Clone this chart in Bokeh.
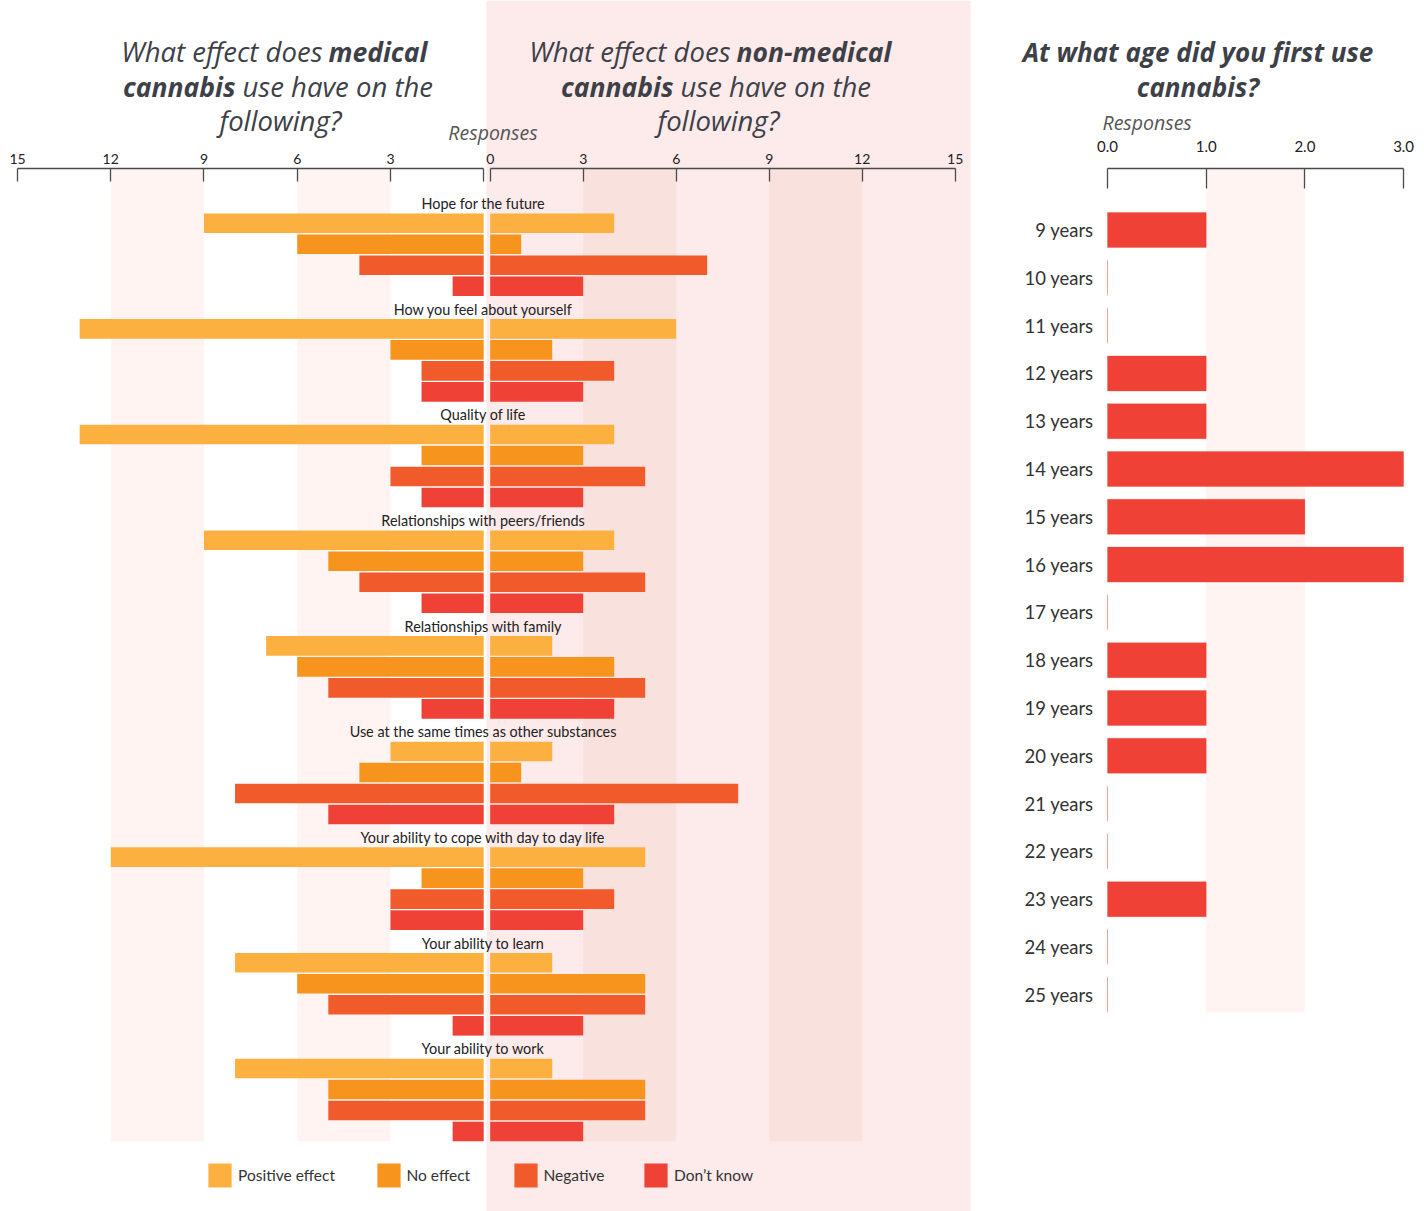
from bokeh.plotting import figure
from bokeh.models import (Range1d, LinearAxis, FixedTicker, Legend, LegendItem,
                          PrintfTickFormatter)
from bokeh.core.properties import value
from bokeh.embed import file_html
from bokeh.resources import INLINE

# ---------------- data ----------------
categories = ["Hope for the future", "How you feel about yourself", "Quality of life",
              "Relationships with peers/friends", "Relationships with family",
              "Use at the same times as other substances",
              "Your ability to cope with day to day life", "Your ability to learn",
              "Your ability to work"]
series_names = ["Positive effect", "No effect", "Negative", "Don\u2019t know"]

medical_positive = [9, 13, 13, 9, 7, 3, 12, 8, 8]
medical_no_effect = [6, 3, 2, 5, 6, 4, 2, 6, 5]
medical_negative = [4, 2, 3, 4, 5, 8, 3, 5, 5]
medical_dont_know = [1, 2, 2, 2, 2, 5, 3, 1, 1]

nonmed_positive = [4, 6, 4, 4, 2, 2, 5, 2, 2]
nonmed_no_effect = [1, 2, 3, 3, 4, 1, 3, 5, 5]
nonmed_negative = [7, 4, 5, 5, 5, 8, 4, 5, 5]
nonmed_dont_know = [3, 3, 3, 3, 4, 4, 3, 3, 3]

effect_ticks = [0, 3, 6, 9, 12, 15]

ages = ["9 years", "10 years", "11 years", "12 years", "13 years", "14 years", "15 years",
        "16 years", "17 years", "18 years", "19 years", "20 years", "21 years", "22 years",
        "23 years", "24 years", "25 years"]
first_use = [1, 0, 0, 1, 1, 3, 2, 3, 0, 1, 1, 1, 0, 0, 1, 0, 0]
age_ticks = [0, 1, 2, 3]

# ---------------- styling / layout constants (page pixels) ----------------
FONT = "Lato"
TFONT = "Open Sans"
COLORS = ["#FBB040", "#F7941D", "#F15A2B", "#EF4136"]
PINK = "#FDEAEA"
BAND_LIGHT = "#FFF4F2"
BAND_DARK = "#F9E1DE"
TITLE_C = "#3d4147"
AX_C = "#4a4a4a"

W, H = 1424, 1211
AXIS_Y = 168.0
GROUP_PITCH = 105.66
LABEL_Y0 = 203.0
BAR_Y0 = 222.7
BAR_PITCH = 21.0
BAR_H = 19.6
BAND_BOTTOM = 1141.0

# scale anchors: (page px of value 0, px per unit)
LEFT_ZERO, LEFT_PX = 483.2, 31.08      # reversed, grows to the left
MID_ZERO, MID_PX = 489.7, 31.0
AGE_ZERO, AGE_PX = 1107.0, 98.7
AGE_Y0, AGE_PITCH = 229.5, 47.8

p = figure(width=W, height=H, x_range=Range1d(0, W), y_range=Range1d(H, 0),
           extra_x_ranges={
               "left": Range1d(LEFT_ZERO / LEFT_PX, (LEFT_ZERO - W) / LEFT_PX),
               "mid": Range1d(-MID_ZERO / MID_PX, (W - MID_ZERO) / MID_PX),
               "age": Range1d(-AGE_ZERO / AGE_PX, (W - AGE_ZERO) / AGE_PX)},
           extra_y_ranges={"agey": Range1d((H - AGE_Y0) / AGE_PITCH, -AGE_Y0 / AGE_PITCH)},
           x_axis_type=None, y_axis_type=None, toolbar_location=None, output_backend="svg",
           min_border_left=0, min_border_right=0, min_border_top=0, min_border_bottom=0,
           background_fill_color="white", border_fill_color="white", outline_line_color=None)

# background of the non-medical panel
p.quad(left=[486], right=[970], top=[0], bottom=[H], fill_color=PINK, line_color=None)

# alternating bands
p.quad(left=[9, 3], right=[12, 6], top=AXIS_Y, bottom=BAND_BOTTOM, x_range_name="left",
       fill_color=BAND_LIGHT, line_color=None)
p.quad(left=[3, 9], right=[6, 12], top=AXIS_Y, bottom=BAND_BOTTOM, x_range_name="mid",
       fill_color=BAND_DARK, line_color=None)
p.quad(left=[1], right=[2], top=AXIS_Y, bottom=AGE_Y0 + AGE_PITCH * (len(ages) - 1) + 17.5,
       x_range_name="age", fill_color=BAND_LIGHT, line_color=None)

# diverging bars
def draw_bars(series, rng):
    rends = []
    for j, vals in enumerate(series):
        ys = [BAR_Y0 + GROUP_PITCH * g + BAR_PITCH * j for g in range(len(categories))]
        r = p.hbar(y=ys, left=0, right=vals, height=BAR_H, x_range_name=rng,
                   fill_color=COLORS[j], line_color=None)
        rends.append(r)
    return rends

lrends = draw_bars([medical_positive, medical_no_effect, medical_negative, medical_dont_know], "left")
mrends = draw_bars([nonmed_positive, nonmed_no_effect, nonmed_negative, nonmed_dont_know], "mid")

label_ys = [LABEL_Y0 + GROUP_PITCH * g for g in range(len(categories))]
p.text(x=[0] * len(categories), y=label_ys, text=categories, x_range_name="left", x_offset=-0.5,
       text_align="center", text_baseline="middle", text_font=value(FONT),
       text_font_size="14.4px", text_color="#222")

# age bars
idx = list(range(len(ages)))
p.hbar(y=idx, left=0, right=first_use, height=35 / AGE_PITCH, x_range_name="age",
       y_range_name="agey", fill_color="#EF4136", line_color="#EF4136", line_alpha=0.3,
       line_width=1)

# axes (drawn at the axis line position, inside the frame)
def top_axis(rng, ticks, bounds, tick_in, standoff, size, **kw):
    ax = LinearAxis(x_range_name=rng, fixed_location=AXIS_Y, ticker=FixedTicker(ticks=ticks),
                    bounds=bounds, major_tick_in=tick_in, major_tick_out=0,
                    minor_tick_in=0, minor_tick_out=0,
                    axis_line_color=AX_C, axis_line_width=1.3,
                    major_tick_line_color=AX_C, major_tick_line_width=1.3,
                    major_label_standoff=standoff, major_label_text_font=FONT,
                    major_label_text_font_size=size, major_label_text_color="#222", **kw)
    p.add_layout(ax, "above")

top_axis("left", effect_ticks, (0, 15), 13, 5, "14px", major_label_overrides={0: ""})
top_axis("mid", effect_ticks, (0, 15), 13, 5, "14px")
top_axis("age", age_ticks, (0, 3), 20, 17, "15px",
         formatter=PrintfTickFormatter(format="%.1f"))

yax = LinearAxis(x_range_name="age", y_range_name="agey", fixed_location=-0.07,
                 ticker=FixedTicker(ticks=idx),
                 major_label_overrides={i: a for i, a in enumerate(ages)},
                 axis_line_color=None, major_tick_line_color=None, minor_tick_line_color=None,
                 major_tick_in=0, major_tick_out=0, minor_tick_in=0, minor_tick_out=0,
                 major_label_standoff=7, major_label_text_font=FONT,
                 major_label_text_font_size="18.5px", major_label_text_color="#333")
p.add_layout(yax, "left")

# titles (text glyphs in page-pixel coordinates)
REG, BOLD = "27.5px", "26.5px"

def add_text(x, y, text, style="italic", size=REG, align="left", color=TITLE_C,
             font=TFONT):
    p.text(x=[x], y=[y], text=[text], text_font=value(font), text_font_size=size,
           text_font_style=style, text_color=color, text_align=align,
           text_baseline="middle")

L1, L2, L3 = 51, 86, 120
add_text(322, L1, "What effect does", align="right")
add_text(328, L1, "medical", style="bold italic", size=BOLD)
add_text(235, L2, "cannabis", style="bold italic", size=BOLD, align="right")
add_text(242, L2, "use have on the")
add_text(280, L3, "following?", align="center")

add_text(730, L1, "What effect does", align="right")
add_text(736, L1, "non-medical", style="bold italic", size=BOLD)
add_text(673, L2, "cannabis", style="bold italic", size=BOLD, align="right")
add_text(680, L2, "use have on the")
add_text(718, L3, "following?", align="center")

add_text(1197.5, L1, "At what age did you first use", style="bold italic", size="26px",
         align="center")
add_text(1197.5, L2, "cannabis?", style="bold italic", size="26px", align="center")

add_text(492.5, 132, "Responses", size="19.5px", align="center", color="#555")
add_text(1102, 122, "Responses", size="19.5px", color="#555")

# legend
def add_legend_item(x_sq, label, rend):
    lg = Legend(items=[LegendItem(label=label, renderers=[rend])],
                location=(x_sq - 2.9, H - 1190), orientation="horizontal",
                padding=0, margin=0, spacing=0, glyph_width=29, glyph_height=30,
                label_height=30, label_standoff=4, border_line_color=None,
                background_fill_alpha=0, label_text_font=FONT,
                label_text_font_size="15.5px", label_text_color="#333")
    p.add_layout(lg)

add_legend_item(208, series_names[0], lrends[0])
add_legend_item(376.4, series_names[1], lrends[1])
add_legend_item(513.4, series_names[2], mrends[2])
add_legend_item(643.9, series_names[3], mrends[3])

open("out.html", "w").write(file_html(p, INLINE))
